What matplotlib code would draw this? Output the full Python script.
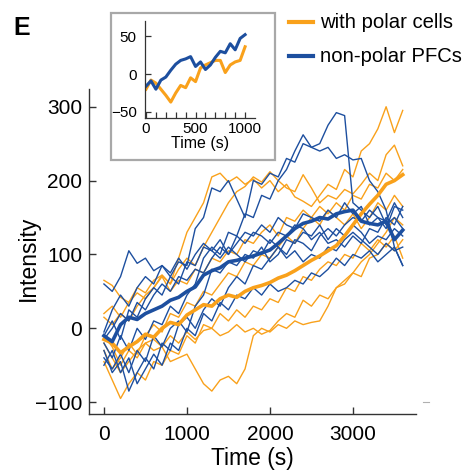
import numpy as np
import matplotlib
matplotlib.use("Agg")
import matplotlib.pyplot as plt
from matplotlib.lines import Line2D
from matplotlib.patches import Rectangle

plt.rcParams["font.family"] = ["Liberation Sans", "DejaVu Sans"]

ORANGE = "#F9A11B"
BLUE = "#1D4F9F"

# time grid of the single-cell traces (s)
time_s = np.arange(0, 3601, 100)

# thin traces
polar_traces = [
    [65, 58, 42, 35, 48, 40, 55, 72, 60, 95, 130, 150, 170, 205, 210, 198, 205, 195, 202, 190,
     200, 185, 195, 178, 172, 165, 180, 195, 188, 215, 205, 240, 250, 270, 300, 265, 295],
    [20, 30, 15, 35, 55, 48, 65, 72, 60, 80, 95, 85, 110, 130, 150, 170, 185, 192, 205, 198,
     212, 200, 190, 185, 208, 190, 170, 180, 175, 188, 182, 195, 210, 200, 235, 248, 220],
    [-30, -55, -40, -20, -35, -10, 5, -5, 20, 15, 35, 30, 50, 45, 60, 75, 70, 90, 85, 100,
     95, 110, 125, 115, 135, 150, 140, 160, 150, 140, 155, 135, 150, 170, 160, 180, 165],
    [-45, -70, -95, -75, -60, -70, -45, -50, -30, -35, -10, -20, 5, 0, 20, 10, 25, 15, 30, 25,
     40, 35, 55, 50, 70, 65, 80, 90, 85, 100, 95, 115, 105, 120, 110, 125, 95],
    [-10, -25, -50, -30, -40, -20, -30, -25, -45, -40, -35, -55, -75, -85, -70, -65, -75, -55, -10, 0,
     -5, 5, 0, 10, 5, 8, 10, 30, 55, 60, 75, 90, 100, 115, 130, 150, 140],
    [-20, -40, -60, -45, -30, -20, -15, -25, -10, -20, -5, -15, -3, 0, -10, -5, 5, -5, 0, -8,
     -3, 10, 20, 15, 38, 30, 45, 40, 55, 65, 75, 70, 95, 100, 115, 105, 120],
    [15, 5, 20, 10, 30, 45, 55, 70, 50, 65, 60, 80, 75, 95, 90, 105, 100, 120, 115, 130,
     140, 125, 150, 145, 160, 150, 165, 155, 170, 160, 180, 175, 195, 190, 210, 200, 215],
]

nonpolar_traces = [
    [60, 50, 70, 105, 88, 95, 78, 85, 70, 90, 85, 135, 150, 190, 185, 200, 175, 150, 200, 195,
     210, 205, 230, 225, 250, 245, 250, 275, 292, 288, 170, 160, 150, 165, 140, 150, 135],
    [-20, -40, -10, -30, 0, -15, 10, 5, 30, 20, 45, 60, 95, 110, 100, 130, 125, 155, 150, 180,
     175, 200, 215, 240, 262, 245, 240, 245, 230, 235, 228, 230, 200, 185, 160, 110, 85],
    [-10, 10, -15, 25, 15, 40, 55, 45, 70, 60, 90, 85, 110, 105, 120, 100, 115, 130, 125, 140,
     130, 150, 140, 135, 155, 150, 145, 160, 150, 170, 155, 165, 140, 150, 135, 165, 160],
    [-40, -55, -35, -60, -30, -45, -10, -25, 0, 10, -5, 30, 45, 80, 75, 90, 85, 100, 95, 110,
     90, 100, 120, 115, 130, 125, 140, 120, 135, 125, 140, 130, 115, 125, 120, 135, 125],
    [-50, -30, -60, -40, -75, -55, -35, -50, -20, -30, 0, -10, 20, 10, 35, 25, 45, 40, 55, 45,
     60, 50, 55, 65, 60, 75, 70, 80, 95, 85, 100, 95, 105, 90, 100, 110, 85],
    [-30, -60, -45, -85, -60, -40, -55, -20, -30, 5, 15, 0, 25, 40, 30, 55, 70, 60, 85, 80,
     95, 110, 100, 120, 115, 105, 125, 135, 125, 140, 150, 145, 160, 150, 145, 170, 150],
    [-15, 0, 20, 10, 35, 25, 45, 60, 50, 70, 65, 80, 75, 95, 110, 100, 125, 115, 130, 125,
     115, 130, 125, 140, 135, 120, 130, 115, 120, 110, 125, 115, 135, 130, 150, 140, 165],
    [-5, 25, 45, 30, 55, 70, 60, 85, 75, 95, 80, 100, 115, 105, 95, 110, 100, 90, 105, 100,
     120, 110, 95, 105, 90, 100, 95, 110, 105, 120, 130, 120, 110, 100, 115, 105, 110],
]

# thick mean curves
polar_mean = [-15, -20, -33, -25, -18, -8, -12, 0, 8, 5, 18, 25, 32, 30, 40, 45, 42, 50, 55, 58,
              62, 68, 72, 78, 85, 92, 98, 105, 112, 125, 140, 155, 168, 180, 195, 200, 208]
nonpolar_mean = [-10, -18, 5, 15, 12, 20, 25, 30, 38, 42, 50, 56, 72, 78, 82, 90, 92, 95, 98, 102,
                 106, 115, 125, 135, 142, 145, 150, 148, 155, 158, 160, 145, 142, 140, 145, 120, 133]

# inset: first 1000 s of the means
inset_time_s = np.arange(0, 1001, 50)
inset_polar = [-20, -8, -12, -20, -28, -37, -25, -15, -18, -5, -10, 8, 12, 15, 18, 18, 2, 12, 16, 18, 36]
inset_nonpolar = [-16, -9, -20, -8, -4, 5, 13, 18, 20, 23, 10, 16, 6, 12, 22, 30, 28, 40, 32, 47, 52]

W, H = 467, 470
fig = plt.figure(figsize=(W / 100, H / 100), dpi=100)

ax = fig.add_axes([89 / W, 1 - 414 / H, (416 - 89) / W, (414 - 89) / H])
for tr in polar_traces:
    ax.plot(time_s, tr, color=ORANGE, lw=1.0)
for tr in nonpolar_traces:
    ax.plot(time_s, tr, color=BLUE, lw=1.0)
ax.plot(time_s, polar_mean, color=ORANGE, lw=2.6)
ax.plot(time_s, nonpolar_mean, color=BLUE, lw=2.6)

ax.set_xlim(-180, 3760)
ax.set_ylim(-116, 324)
ax.set_xticks([0, 1000, 2000, 3000])
ax.set_yticks([-100, 0, 100, 200, 300])
for s in ["top", "right"]:
    ax.spines[s].set_visible(False)
for s in ["left", "bottom"]:
    ax.spines[s].set_color("#333333")
    ax.spines[s].set_linewidth(1.0)
ax.tick_params(direction="in", length=5, width=1, color="#333333", labelsize=15)
ax.tick_params(axis="x", pad=8)
ax.tick_params(axis="y", pad=5)
ax.set_xlabel("Time (s)", fontsize=16.5, labelpad=2)
ax.set_ylabel("Intensity", fontsize=16.5)
ax.yaxis.set_label_coords(-0.15, 0.48)

# inset
ins = fig.add_axes([145 / W, 1 - 118 / H, (255 - 145) / W, (118 - 21) / H])
ins.plot(inset_time_s, inset_polar, color=ORANGE, lw=2.2)
ins.plot(inset_time_s, inset_nonpolar, color=BLUE, lw=2.2)
ins.set_xlim(-10, 1100)
ins.set_ylim(-58, 70)
ins.set_xticks([0, 500, 1000])
ins.set_xticks(np.arange(0, 1001, 100), minor=True)
ins.set_yticks([-50, 0, 50])
for s in ["top", "right"]:
    ins.spines[s].set_visible(False)
for s in ["left", "bottom"]:
    ins.spines[s].set_color("#333333")
    ins.spines[s].set_linewidth(0.9)
ins.tick_params(which="both", direction="in", length=4, width=0.9, color="#333333",
                labelsize=11, pad=3)
ins.tick_params(axis="y", pad=6)
ins.set_xlabel("Time (s)", fontsize=11.5, labelpad=0)

fig.add_artist(Rectangle((111 / W, 1 - 160 / H), (275 - 111) / W, (160 - 13) / H,
                         transform=fig.transFigure, fill=False, edgecolor="#A8A8A8", lw=1.6))

# legend drawn by hand
for yy, col, label in [(22, ORANGE, "with polar cells"), (56, BLUE, "non-polar PFCs")]:
    fig.add_artist(Line2D([289 / W, 313 / W], [1 - yy / H] * 2, transform=fig.transFigure,
                          color=col, lw=3))
    fig.text(320 / W, 1 - yy / H, label, fontsize=14.6, va="center", ha="left")

fig.text(13 / W, 1 - 28 / H, "E", fontsize=18, fontweight="bold", va="center", ha="left")

# small stray dash at the right edge of the original panel
fig.add_artist(Line2D([423 / W, 429 / W], [1 - 402 / H] * 2, transform=fig.transFigure,
                      color="#B0B0B0", lw=0.8))

fig.savefig("out.png", dpi=100)
